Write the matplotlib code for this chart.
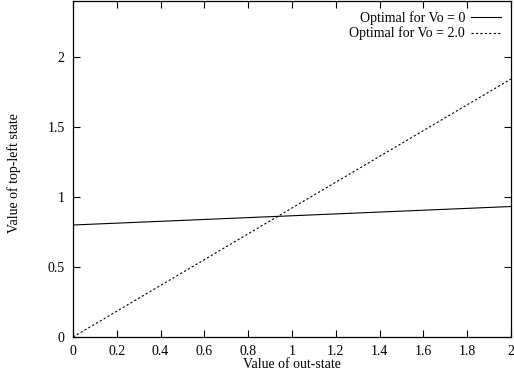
import matplotlib
matplotlib.use("Agg")
import matplotlib.pyplot as plt

# values
out_state = [0.0, 2.0]
top_left_v0 = [0.80, 0.932]
top_left_v2 = [0.0, 1.843]
labels = ["Optimal for Vo = 0", "Optimal for Vo = 2.0"]
xticks = [0, 0.2, 0.4, 0.6, 0.8, 1, 1.2, 1.4, 1.6, 1.8, 2]
yticks = [0, 0.5, 1, 1.5, 2]

plt.rcParams['font.family'] = ['Liberation Serif', 'DejaVu Serif']
plt.rcParams['font.size'] = 10

fig = plt.figure(figsize=(5.14, 3.70), dpi=100)
W, H = 514, 370
ax = fig.add_axes([73 / W, (H - 337) / H, (511 - 73) / W, 336 / H])

ax.plot(out_state, top_left_v0, color='black', lw=0.8, label=labels[0])
ax.plot(out_state, top_left_v2, color='black', lw=0.8, ls=(0, (2, 2)), label=labels[1])

ax.set_xlim(0, 2)
ax.set_ylim(0, 2.4)
ax.set_xticks(xticks)
ax.set_xticklabels(['0', '0.2', '0.4', '0.6', '0.8', '1', '1.2', '1.4', '1.6', '1.8', '2'])
ax.set_yticks(yticks)
ax.set_yticklabels(['0', '0.5', '1', '1.5', '2'])
ax.tick_params(direction='in', length=5, width=0.8, top=True, right=True)
ax.tick_params(axis='x', pad=6)
ax.tick_params(axis='y', pad=6)
for s in ax.spines.values():
    s.set_linewidth(0.9)

ax.set_xlabel("Value of out-state")
ax.xaxis.label.set_va('baseline')
ax.xaxis.set_label_coords(0.5, -0.091)
ax.set_ylabel("Value of top-left state")
ax.yaxis.label.set_va('center')
ax.yaxis.set_label_coords(-0.134, 0.488)

leg = ax.legend(loc='upper right', frameon=False, markerfirst=False,
                handlelength=2.2, handletextpad=0.4, labelspacing=0.15,
                borderaxespad=0.35, borderpad=0.35)
# right-align the entries like gnuplot does
for col in leg._legend_handle_box.get_children():
    col.align = 'right'

fig.savefig("out.png", dpi=100)
